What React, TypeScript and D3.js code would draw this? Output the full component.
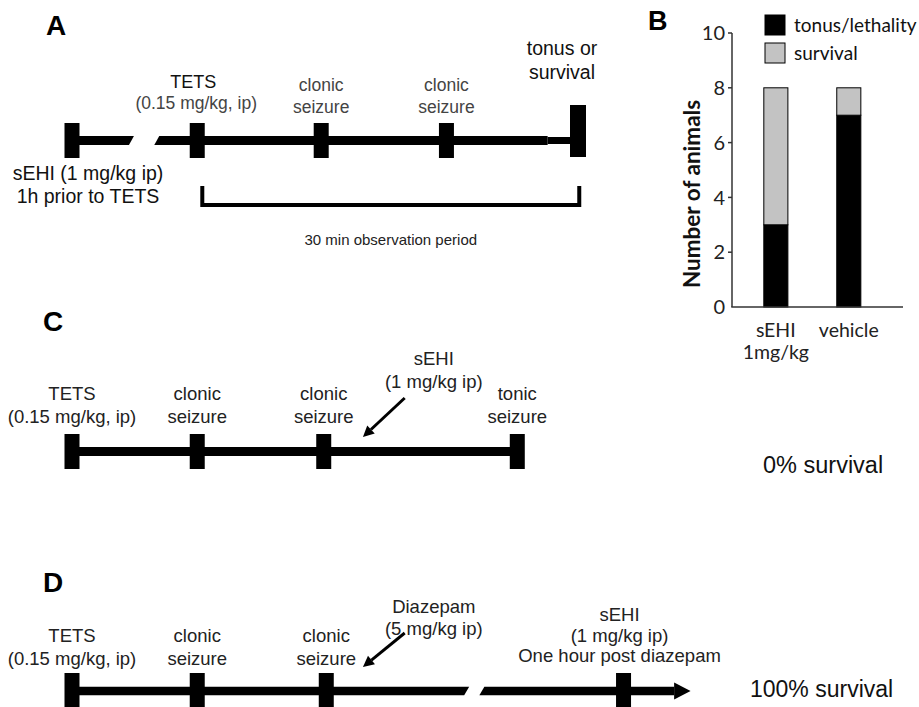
import React from "react";
import * as d3 from "d3";

// ---------- Data ----------
// Timeline positions are on a shared "protocol position" axis (arbitrary time units)
const aPositions = [0, 9.9, 19.7, 29.6, 40];
const aLabels = [
  ["sEHI (1 mg/kg ip)", "1h prior to TETS"],
  ["TETS", "(0.15 mg/kg, ip)"],
  ["clonic", "seizure"],
  ["clonic", "seizure"],
  ["tonus or", "survival"],
];
const aBreak = [4.7, 6.7];
const aObservation = [10.3, 40.1];
const aObservationLabel = "30 min observation period";

const cPositions = [0, 9.9, 19.9, 35.2];
const cLabels = [
  ["TETS", "(0.15 mg/kg, ip)"],
  ["clonic", "seizure"],
  ["clonic", "seizure"],
  ["tonic", "seizure"],
];
const cInjection = ["sEHI", "(1 mg/kg ip)"];
const cInjectionLabelPos = 28.6;
const cInjectionArrow = [26.3, 23.0];
const cOutcome = "0% survival";

const dPositions = [0, 9.9, 20.1];
const dLabels = [
  ["TETS", "(0.15 mg/kg, ip)"],
  ["clonic", "seizure"],
  ["clonic", "seizure"],
];
const dBreak = [31.2, 32.4];
const dLateEvent = 43.6;
const dLateLabels = ["sEHI", "(1 mg/kg ip)", "One hour post diazepam"];
const dArrowEnd = 48.9;
const dInjection = ["Diazepam", "(5 mg/kg ip)"];
const dInjectionLabelPos = 28.6;
const dInjectionArrow = [26.3, 23.0];
const dOutcome = "100% survival";

// Panel B bar chart
const groups = ["sEHI", "vehicle"];
const groupSubLabels = ["1mg/kg", ""];
const tonusLethality = [3, 7];
const survival = [5, 1];
const seriesNames = ["tonus/lethality", "survival"];
const seriesColors = ["#000000", "#c3c3c3"];
const yTicks = [0, 2, 4, 6, 8, 10];

const SANS = "'Liberation Sans', Arial, Helvetica, sans-serif";
const CAL = "Lato, 'Open Sans', sans-serif";

const x = d3.scaleLinear().domain([0, 40]).range([72, 578]);

function Tick({ cx, yc, w = 15, h = 35 }: { cx: number; yc: number; w?: number; h?: number }) {
  return <rect x={cx - w / 2} y={yc - h / 2} width={w} height={h} fill="#000" />;
}

function Label({ cx, lines, y0, gap, size, color, weight }: any) {
  return (
    <text x={cx} textAnchor="middle" fontFamily={SANS} fontSize={size} fill={color} fontWeight={weight || "normal"}>
      {lines.map((l: string, i: number) => (
        <tspan key={i} x={cx} y={y0 + i * gap}>{l}</tspan>
      ))}
    </text>
  );
}

function slantSeg(x0: number, x1: number, yc: number, t: number, slantLeft: boolean, slantRight: boolean) {
  const s = 2.5;
  const p = d3.path();
  p.moveTo(x0 + (slantLeft ? s : 0), yc - t / 2);
  p.lineTo(x1 + (slantRight ? s : 0), yc - t / 2);
  p.lineTo(x1 - (slantRight ? s : 0), yc + t / 2);
  p.lineTo(x0 - (slantLeft ? s : 0), yc + t / 2);
  p.closePath();
  return p.toString();
}

function Pointer({ x1, y1, x2, y2 }: { x1: number; y1: number; x2: number; y2: number }) {
  const ang = Math.atan2(y2 - y1, x2 - x1);
  const L = 11, W = 5.5;
  const bx = x2 - L * Math.cos(ang), by = y2 - L * Math.sin(ang);
  const nx = -Math.sin(ang), ny = Math.cos(ang);
  return (
    <g>
      <line x1={x1} y1={y1} x2={bx} y2={by} stroke="#000" strokeWidth={3} />
      <path d={`M${x2},${y2} L${bx + nx * W},${by + ny * W} L${bx - nx * W},${by - ny * W} Z`} fill="#000" />
    </g>
  );
}

function PanelA() {
  const yc = 140.5;
  const t = 9;
  const thinStart = 37.6;
  return (
    <g>
      <text x={46} y={35} fontFamily={SANS} fontWeight="bold" fontSize={28}>A</text>
      <path d={slantSeg(x(0), x(aBreak[0]), yc, t, false, true)} fill="#000" />
      <path d={slantSeg(x(aBreak[1]), x(thinStart), yc, t, true, false)} fill="#000" />
      <rect x={x(thinStart)} y={yc - 3.5} width={x(40) - x(thinStart)} height={7} fill="#000" />
      {aPositions.slice(0, 4).map((p, i) => <Tick key={i} cx={x(p)} yc={yc} />)}
      <rect x={x(40) - 8} y={105} width={16} height={52} fill="#000" />
      <Label cx={x(aPositions[0]) + 16} lines={aLabels[0]} y0={180} gap={22.5} size={19.5} color="#111" />
      <Label cx={x(aPositions[1]) - 4} lines={[aLabels[1][0]]} y0={88} gap={22} size={18} color="#111" />
      <Label cx={x(aPositions[1]) - 1} lines={[aLabels[1][1]]} y0={109} gap={22} size={17.5} color="#444" />
      <Label cx={x(aPositions[2])} lines={aLabels[2]} y0={91} gap={22} size={17.5} color="#444" />
      <Label cx={x(aPositions[3])} lines={aLabels[3]} y0={91} gap={22} size={17.5} color="#444" />
      <Label cx={x(aPositions[4]) - 16} lines={aLabels[4]} y0={55} gap={23.5} size={19.5} color="#111" />
      <path
        d={`M${x(aObservation[0])},186 V205 H${x(aObservation[1])} V186`}
        fill="none" stroke="#000" strokeWidth={4}
      />
      <text x={(x(aObservation[0]) + x(aObservation[1])) / 2} y={245} textAnchor="middle" fontFamily={SANS} fontSize={15} fill="#222">
        {aObservationLabel}
      </text>
    </g>
  );
}

function PanelC() {
  const yc = 451.5;
  return (
    <g>
      <text x={43} y={331} fontFamily={SANS} fontWeight="bold" fontSize={28}>C</text>
      <rect x={x(0)} y={yc - 4.5} width={x(cPositions[3]) - x(0)} height={9} fill="#000" />
      {cPositions.map((p, i) => <Tick key={i} cx={x(p)} yc={yc} />)}
      {cLabels.map((l, i) => (
        <Label key={i} cx={x(cPositions[i])} lines={l} y0={400} gap={23} size={18.5} color="#222" />
      ))}
      <Label cx={x(cInjectionLabelPos)} lines={cInjection} y0={365} gap={23} size={18.5} color="#222" />
      <Pointer x1={x(cInjectionArrow[0])} y1={398} x2={x(cInjectionArrow[1])} y2={437} />
      <text x={763} y={473} fontFamily={SANS} fontSize={23.5} fill="#111">{cOutcome}</text>
    </g>
  );
}

function PanelD() {
  const yc = 691;
  const headStart = dArrowEnd - 1.3;
  return (
    <g>
      <text x={43} y={592} fontFamily={SANS} fontWeight="bold" fontSize={28}>D</text>
      <path d={slantSeg(x(0), x(dBreak[0]), yc, 8.5, false, true)} fill="#000" />
      <path d={slantSeg(x(dBreak[1]), x(headStart), yc, 8.5, true, false)} fill="#000" />
      <path d={`M${x(headStart)},${yc - 8.5} L${x(dArrowEnd)},${yc} L${x(headStart)},${yc + 8.5} Z`} fill="#000" />
      {dPositions.map((p, i) => <Tick key={i} cx={x(p)} yc={yc} w={15} h={36} />)}
      <Tick cx={x(dLateEvent)} yc={yc} w={15} h={36} />
      {dLabels.map((l, i) => (
        <Label key={i} cx={x(dPositions[i])} lines={l} y0={642} gap={23} size={18.5} color="#222" />
      ))}
      <Label cx={x(dInjectionLabelPos)} lines={dInjection} y0={613} gap={22} size={18.5} color="#222" />
      <Pointer x1={x(dInjectionArrow[0])} y1={633} x2={x(dInjectionArrow[1])} y2={667} />
      <Label cx={x(dLateEvent) - 4} lines={dLateLabels} y0={621} gap={20.5} size={18.5} color="#222" />
      <text x={750} y={697} fontFamily={SANS} fontSize={23} fill="#111">{dOutcome}</text>
    </g>
  );
}

function PanelB() {
  const y = d3.scaleLinear().domain([0, 10]).range([307, 33]);
  const xb = d3.scaleBand().domain(groups).range([732, 903]).paddingInner(0.67).paddingOuter(0.507).align(0.43);
  const rows = groups.map((g, i) => ({ group: g, tonus: tonusLethality[i], survival: survival[i] }));
  const stack = d3.stack<any>().keys(["tonus", "survival"])(rows);
  return (
    <g>
      <text x={648} y={30} fontFamily={SANS} fontWeight="bold" fontSize={27}>B</text>
      {stack.map((s, si) =>
        s.map((d: any, i: number) => (
          <rect key={`${si}-${i}`} x={xb(rows[i].group)} y={y(d[1])} width={xb.bandwidth()} height={y(d[0]) - y(d[1])}
            fill={seriesColors[si]} stroke="#000" strokeWidth={1} />
        ))
      )}
      <line x1={732} x2={732} y1={y(10)} y2={y(0)} stroke="#333" strokeWidth={1.5} />
      <line x1={731.25} x2={903} y1={y(0)} y2={y(0)} stroke="#333" strokeWidth={1.5} />
      {yTicks.map((t) => (
        <g key={t}>
          {t > 0 && <line x1={728} x2={732} y1={y(t)} y2={y(t)} stroke="#333" strokeWidth={1.5} />}
          <text x={725} y={y(t)} dy="0.36em" textAnchor="end" fontFamily={CAL} fontSize={20} fill="#222">{t}</text>
        </g>
      ))}
      <text transform={`translate(700,${(y(0) + y(10)) / 2 + 24}) rotate(-90)`} textAnchor="middle" fontFamily={CAL} fontWeight="bold" fontSize={22.5} fill="#111">
        Number of animals
      </text>
      {groups.map((g, i) => (
        <text key={g} x={(xb(g) as number) + xb.bandwidth() / 2} textAnchor="middle" fontFamily={CAL} fontSize={19.5} fill="#222">
          <tspan x={(xb(g) as number) + xb.bandwidth() / 2} y={337}>{g}</tspan>
          {groupSubLabels[i] && <tspan x={(xb(g) as number) + xb.bandwidth() / 2} y={359}>{groupSubLabels[i]}</tspan>}
        </text>
      ))}
      {seriesNames.map((n, i) => (
        <g key={n}>
          <rect x={765} y={15 + i * 28} width={20} height={20} fill={seriesColors[i]} stroke="#000" strokeWidth={1} />
          <text x={794} y={25 + i * 28} dy="0.35em" fontFamily={CAL} fontSize={19} fill="#111">{n}</text>
        </g>
      ))}
    </g>
  );
}

export default function App() {
  return (
    <svg width={919} height={707} style={{ position: "absolute", left: 0, top: 0, background: "#fff" }}>
      <rect width={919} height={707} fill="#fff" />
      <PanelA />
      <PanelB />
      <PanelC />
      <PanelD />
    </svg>
  );
}
